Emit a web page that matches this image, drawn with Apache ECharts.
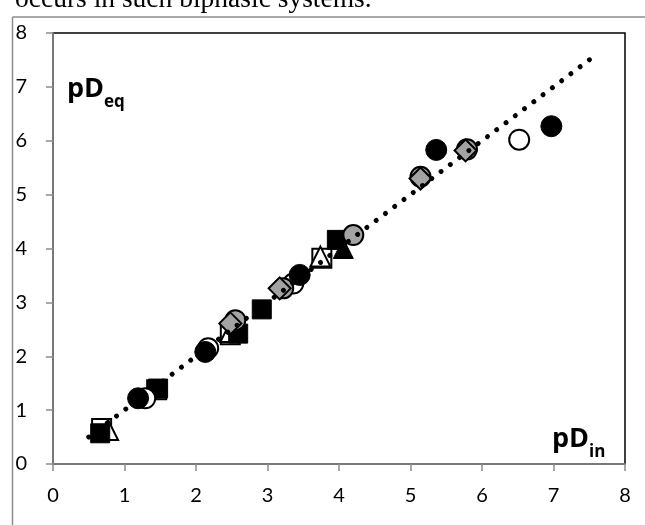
<!DOCTYPE html>
<html>
<head>
<meta charset="utf-8">
<script src="https://cdn.jsdelivr.net/npm/echarts@6/dist/echarts.min.js"></script>
<style>html,body{margin:0;padding:0;background:#fff;}#c{width:645px;height:525px;}</style>
</head>
<body>
<div id="c"></div>
<script>
// Axis ticks
const xTicks = [0,1,2,3,4,5,6,7,8];
const yTicks = [0,1,2,3,4,5,6,7,8];
// Reference line y = x
const refLine = [[0.5,0.5],[7.55,7.55]];
// Series data [pD_in, pD_eq]
const blackSquares = [[0.66,0.57],[1.47,1.40],[2.59,2.42],[2.92,2.87],[3.97,4.16]];
const openSquares = [[0.68,0.66],[1.45,1.38],[2.48,2.40],[3.76,3.82]];
const openTriangles = [[0.77,0.63],[2.48,2.45],[3.74,3.85]];
const blackTriangles = [[4.06,4.00]];
const openCircles = [[1.29,1.22],[2.17,2.15],[3.36,3.35],[6.52,6.02]];
const blackCircles = [[1.19,1.22],[2.13,2.08],[3.45,3.51],[5.36,5.83],[6.97,6.27]];
const grayCircles = [[2.55,2.67],[3.22,3.26],[4.20,4.25],[5.14,5.33],[5.79,5.84]];
const grayDiamonds = [[2.48,2.61],[3.17,3.26],[5.14,5.30],[5.77,5.82]];

const chart = echarts.init(document.getElementById('c'), null, {renderer:'canvas'});
const GRAY = '#a3a3a3';
const labelFont = {fontFamily:'Lato', fontSize:20, color:'#000'};
function sc(name, data, symbol, size, fill, border, bw){
  return {name, type:'scatter', data, symbol, symbolSize:size,
    itemStyle:{color:fill, borderColor:border, borderWidth:bw, opacity:1},
    emphasis:{disabled:true}, z:3};
}
chart.setOption({
  animation:false,
  grid:{left:53, top:33, right:20, bottom:61, show:true, borderColor:'#000', borderWidth:1.5, backgroundColor:'#fff'},
  xAxis:{type:'value', min:0, max:8, interval:1,
    axisLine:{show:true, lineStyle:{color:'#8c8c8c', width:1.5}},
    axisTick:{show:true, length:7, lineStyle:{color:'#8c8c8c', width:1.5}},
    axisLabel:Object.assign({margin:22, formatter:v=>xTicks.includes(v)?String(v):''}, labelFont),
    splitLine:{show:false}},
  yAxis:{type:'value', min:0, max:8, interval:1,
    axisLine:{show:true, lineStyle:{color:'#8c8c8c', width:1.5}},
    axisTick:{show:true, length:7, lineStyle:{color:'#8c8c8c', width:1.5}},
    axisLabel:Object.assign({margin:26, formatter:v=>yTicks.includes(v)?String(v):''}, labelFont),
    splitLine:{show:false}},
  series:[
    sc('os', openSquares, 'rect', 19, '#fff', '#000', 2),
    sc('ot', openTriangles, 'triangle', 20, '#fff', '#000', 2),
    sc('bs', blackSquares, 'rect', 19, '#000', '#000', 1),
    sc('bt', blackTriangles, 'triangle', 20, '#000', '#000', 1),
    sc('oc', openCircles, 'circle', 20, '#fff', '#000', 2),
    sc('bc', blackCircles, 'circle', 21, '#000', '#000', 1),
    sc('gc', grayCircles, 'circle', 20, GRAY, '#000', 2),
    sc('gd', grayDiamonds, 'diamond', 22, GRAY, '#000', 2),
    {type:'line', data:refLine, showSymbol:false, symbol:'none', z:5, silent:true,
      lineStyle:{color:'#000', width:5, type:[0.01,11.6], cap:'round'}}
  ],
  graphic:[
    {type:'text', left:15, top:-14, z:10, style:{text:'occurs in such biphasic systems.', font:'27.5px "Liberation Serif"', fill:'#000'}},
    {type:'line', shape:{x1:12.5, y1:17, x2:645, y2:17}, style:{stroke:'#8c8c8c', lineWidth:1.5}, z:10},
    {type:'line', shape:{x1:12.5, y1:17, x2:12.5, y2:525}, style:{stroke:'#8c8c8c', lineWidth:1.5}, z:10},
    {type:'text', x:67, y:89, z:10, style:{text:'pD', font:'bold 27px "Open Sans"', fill:'#000', verticalAlign:'middle'}},
    {type:'text', x:104, y:102, z:10, style:{text:'eq', font:'bold 17px "Open Sans"', fill:'#000', verticalAlign:'middle'}},
    {type:'text', x:552, y:439, z:10, style:{text:'pD', font:'bold 27px "Open Sans"', fill:'#000', verticalAlign:'middle'}},
    {type:'text', x:589, y:452, z:10, style:{text:'in', font:'bold 17px "Open Sans"', fill:'#000', verticalAlign:'middle'}}
  ]
});
</script>
</body>
</html>
